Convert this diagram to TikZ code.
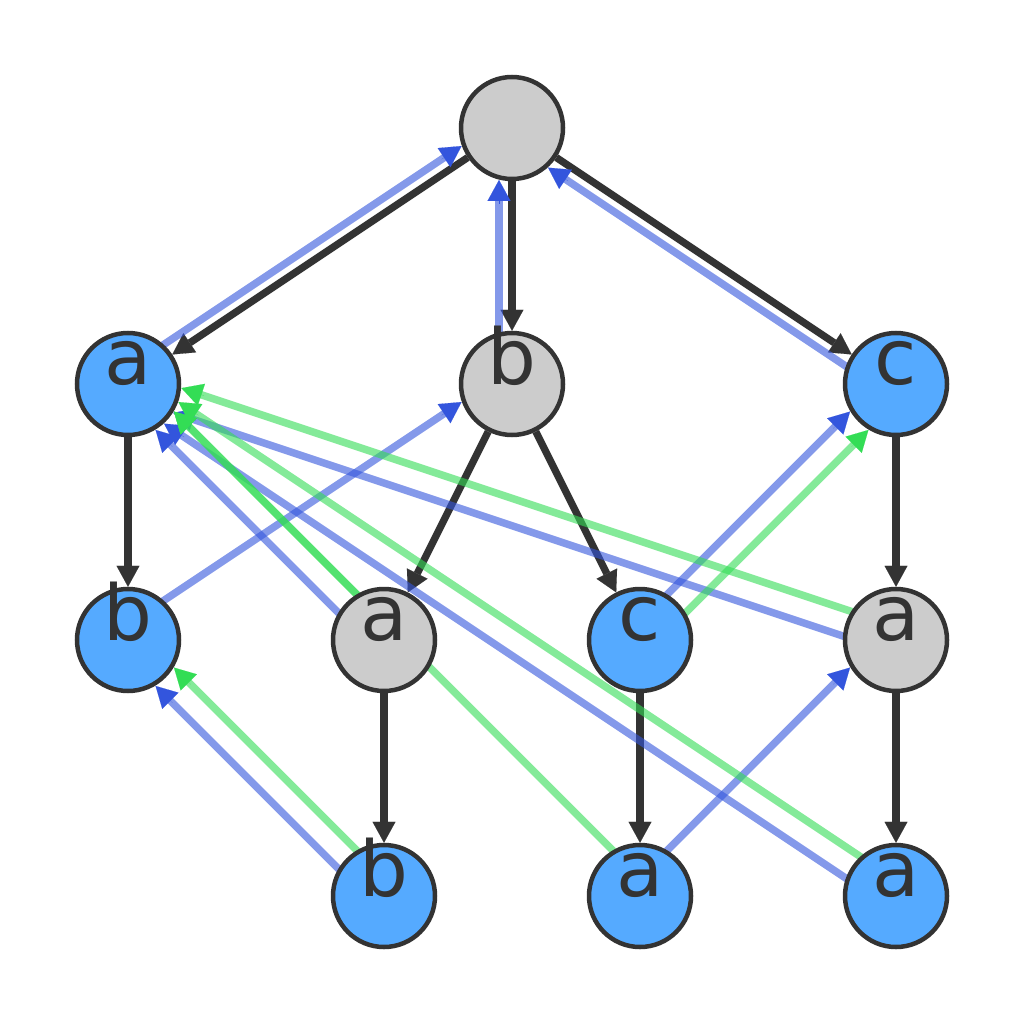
\documentclass[tikz,border=0pt]{standalone}
\usepackage{fontspec}
\setmainfont{DejaVu Sans}
\usetikzlibrary{arrows.meta,calc,backgrounds}
\definecolor{nblue}{HTML}{55AAFF}
\definecolor{ngray}{HTML}{CCCCCC}
\definecolor{darkc}{HTML}{333333}
\definecolor{failc}{HTML}{3355DD}
\definecolor{dictc}{HTML}{33DD55}
\tikzset{
  st/.style={circle, draw=darkc, line width=4.5pt, minimum size=102pt, inner sep=0pt},
  acc/.style={st, fill=nblue},
  mid/.style={st, fill=ngray},
  lab/.style={anchor=base, text=darkc, font=\fontsize{77}{84}\selectfont, inner sep=0pt},
  edge/.style={draw=darkc, line width=7.3pt, -{Triangle[length=21pt,width=23pt,line width=0.1pt]}},
}
% source, target, side angle, colour
\newcommand{\lnk}[4]{%
  \coordinate (#1#2#4s) at ($(#1)!13pt!#3:(#2)$);
  \coordinate (#1#2#4t) at ($(#2)+(#1#2#4s)-(#1)$);
  \draw[#4, opacity=.6, line width=7.5pt, shorten >=67pt] (#1#2#4s) -- (#1#2#4t);
  \draw[#4, line width=0.1pt, -{Triangle[length=21pt,width=23pt,line width=0.1pt]}]
    ($(#1#2#4t)!76pt!(#1#2#4s)$) -- ($(#1#2#4t)!52pt!(#1#2#4s)$);
}
\begin{document}
\begin{tikzpicture}[x=1pt,y=-1pt]
  \useasboundingbox (0,0) rectangle (1024,1024);
  % nodes
  \node[mid] (root) at (512,128) {};
  \node[acc] (a1) at (128,384) {};
  \node[mid] (b1) at (512,384) {};
  \node[acc] (c1) at (896,384) {};
  \node[acc] (b2) at (128,640) {};
  \node[mid] (a2) at (384,640) {};
  \node[acc] (c2) at (640,640) {};
  \node[mid] (a3) at (896,640) {};
  \node[acc] (b3) at (384,896) {};
  \node[acc] (a4) at (640,896) {};
  \node[acc] (a5) at (896,896) {};
  % labels
  \node[lab] (a1t) at (a1.center) {a};
  \node[lab] (b1t) at (b1.center) {b};
  \node[lab] (c1t) at (c1.center) {c};
  \node[lab] (b2t) at (b2.center) {b};
  \node[lab] (a2t) at (a2.center) {a};
  \node[lab] (c2t) at (c2.center) {c};
  \node[lab] (a3t) at (a3.center) {a};
  \node[lab] (b3t) at (b3.center) {b};
  \node[lab] (a4t) at (a4.center) {a};
  \node[lab] (a5t) at (a5.center) {a};
  \begin{pgfonlayer}{background}
    \fill[white] (0,0) rectangle (1024,1024);
    % trie edges
    \draw[edge] (root) -- (a1);
    \draw[edge] (root) -- (b1);
    \draw[edge] (root) -- (c1);
    \draw[edge] (a1) -- (b2);
    \draw[edge] (b1) -- (a2);
    \draw[edge] (b1) -- (c2);
    \draw[edge] (c1) -- (a3);
    \draw[edge] (a2) -- (b3);
    \draw[edge] (c2) -- (a4);
    \draw[edge] (a3) -- (a5);
    % failure links
    \lnk{a1}{root}{90}{failc}
    \lnk{b1}{root}{90}{failc}
    \lnk{c1}{root}{90}{failc}
    \lnk{b2}{b1}{90}{failc}
    \lnk{a2}{a1}{90}{failc}
    \lnk{c2}{c1}{90}{failc}
    \lnk{a3}{a1}{90}{failc}
    \lnk{b3}{b2}{90}{failc}
    \lnk{a4}{a3}{90}{failc}
    \lnk{a5}{a1}{90}{failc}
    % dictionary links
    \lnk{a2}{a1}{-90}{dictc}
    \lnk{c2}{c1}{-90}{dictc}
    \lnk{a3}{a1}{-90}{dictc}
    \lnk{b3}{b2}{-90}{dictc}
    \lnk{a4}{a1}{-90}{dictc}
    \lnk{a5}{a1}{-90}{dictc}
  \end{pgfonlayer}
\end{tikzpicture}
\end{document}
